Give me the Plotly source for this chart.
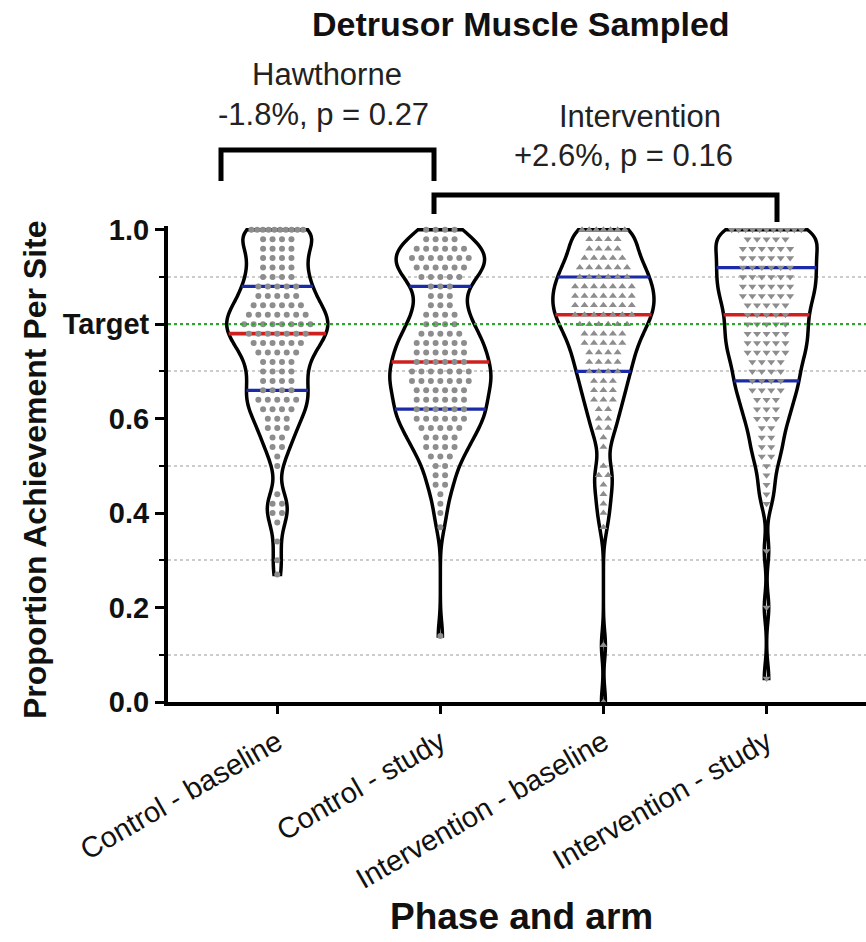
import numpy as np
import plotly.graph_objects as go

categories = ["Control - baseline", "Control - study",
              "Intervention - baseline", "Intervention - study"]

cb_values = [1.00, 0.98, 0.96, 0.94, 0.92, 0.90, 0.88, 0.86, 0.84, 0.82, 0.80, 0.78,
             0.76, 0.74, 0.72, 0.70, 0.68, 0.66, 0.64, 0.62, 0.60, 0.58, 0.56, 0.54,
             0.52, 0.50, 0.44, 0.42, 0.40, 0.38, 0.34, 0.30, 0.27]
cb_counts = [10, 4, 4, 4, 4, 4, 5, 5, 6, 7, 8, 7,
             6, 5, 4, 4, 4, 4, 5, 4, 3, 3, 2, 2,
             1, 1, 1, 2, 2, 1, 1, 1, 1]

cs_values = [1.00, 0.98, 0.96, 0.94, 0.92, 0.90, 0.88, 0.86, 0.84, 0.82, 0.80, 0.78,
             0.76, 0.74, 0.72, 0.70, 0.68, 0.66, 0.64, 0.62, 0.60, 0.58, 0.56, 0.54,
             0.52, 0.50, 0.48, 0.46, 0.44, 0.42, 0.40, 0.37, 0.14]
cs_counts = [4, 4, 6, 7, 6, 5, 3, 3, 3, 4, 4, 5,
             6, 6, 6, 7, 7, 6, 6, 6, 6, 5, 4, 4,
             3, 2, 2, 2, 1, 1, 1, 1, 1]

ib_values = [1.00, 0.98, 0.96, 0.94, 0.92, 0.90, 0.88, 0.86, 0.84, 0.82, 0.80, 0.78,
             0.76, 0.74, 0.72, 0.70, 0.68, 0.66, 0.64, 0.62, 0.60, 0.58, 0.56, 0.54,
             0.50, 0.48, 0.46, 0.44, 0.42, 0.40, 0.37, 0.12, 0.00]
ib_counts = [7, 4, 4, 5, 6, 6, 7, 7, 7, 7, 6, 5,
             5, 4, 4, 4, 3, 3, 3, 2, 2, 2, 1, 1,
             1, 2, 1, 1, 1, 1, 1, 1, 1]

is_values = [1.00, 0.98, 0.96, 0.94, 0.92, 0.90, 0.88, 0.86, 0.84, 0.82, 0.80, 0.78,
             0.76, 0.74, 0.72, 0.70, 0.68, 0.66, 0.64, 0.62, 0.60, 0.58, 0.56, 0.54,
             0.52, 0.50, 0.48, 0.46, 0.44, 0.42, 0.32, 0.20, 0.05]
is_counts = [11, 5, 6, 6, 6, 6, 6, 6, 5, 5, 5, 5,
             5, 5, 4, 4, 4, 4, 3, 3, 3, 2, 2, 2,
             2, 1, 1, 1, 1, 1, 1, 1, 1]

group_values = [cb_values, cs_values, ib_values, is_values]
group_counts = [cb_counts, cs_counts, ib_counts, is_counts]
symbols = ["circle", "circle", "triangle-up", "triangle-down"]
tick_vals = [0.0, 0.2, 0.4, 0.6, 0.8, 1.0]
tick_text = ["0.0", "0.2", "0.4", "0.6", "Target", "1.0"]
target = 0.8

BW = 0.03          # KDE bandwidth
VW = 0.62          # violin full width (category units)
FONT = "Liberation Sans"


def kde_factory(vals, bw):
    vals = np.asarray(vals, float)
    n = len(vals)
    lo, hi = vals.min(), vals.max()
    dist = hi - lo
    m = int(np.ceil(dist / (bw / 3.0)))
    step = dist / m
    grid = lo + step * np.arange(m + 1)

    def kde(x):
        x = np.atleast_1d(np.asarray(x, float))
        z = (x[:, None] - vals[None, :]) / bw
        return np.exp(-0.5 * z * z).sum(1) / (np.sqrt(2 * np.pi) * n * bw)

    return kde, kde(grid).max()


fig = go.Figure()

line_traces = []
point_traces = []
violin_traces = []
for i, (vals, cnts) in enumerate(zip(group_values, group_counts)):
    data = np.repeat(np.asarray(vals, float), cnts)
    kde, maxk = kde_factory(data, BW)

    def halfw(v):
        return kde(v) / maxk * VW / 2.0

    violin_traces.append(go.Violin(
        x=[i] * len(data), y=data, width=VW, bandwidth=BW, spanmode="hard",
        line=dict(color="black", width=3.5), fillcolor="rgba(0,0,0,0)",
        points=False, box_visible=False, meanline_visible=False,
        hoverinfo="skip", showlegend=False, name=categories[i]))

    q1, med, q3 = np.percentile(data, [25, 50, 75])
    for q, col, w in [(q1, "#1b2aa6", 3.2), (q3, "#1b2aa6", 3.2), (med, "#cf2020", 3.6)]:
        h = halfw(q)[0]
        line_traces.append(go.Scatter(
            x=[i - h, i + h], y=[q, q], mode="lines",
            line=dict(color=col, width=w), hoverinfo="skip", showlegend=False))

    px, py = [], []
    for v, k in zip(vals, cnts):
        h = halfw(v)[0]
        if k > 1:
            s = min(0.058, 1.7 * h / (k - 1))
        else:
            s = 0.0
        offs = (np.arange(k) - (k - 1) / 2.0) * s
        px.extend(list(i + offs))
        py.extend([v] * k)
    point_traces.append(go.Scatter(
        x=px, y=py, mode="markers",
        marker=dict(symbol=symbols[i], size=6 if symbols[i] == "circle" else 7,
                    color="#8d8d8d", line=dict(width=0)),
        hoverinfo="skip", showlegend=False))

for t in violin_traces + line_traces + point_traces:
    fig.add_trace(t)

# plot area in page pixels: 168..866 x 226..702
W_FIG, H_FIG = 866, 942
L, R, T, B = 168, 866, 226, 702


def xp(p):
    return (p - L) / (R - L)


def yp(p):
    return (B - p) / (B - T)


shapes = [
    dict(type="line", xref="paper", yref="y", x0=0, x1=1, y0=target, y1=target,
         line=dict(color="#2fa52f", width=2.2, dash="dot"), layer="above"),
    dict(type="path", xref="paper", yref="paper",
         path=f"M {xp(221)} {yp(181)} L {xp(221)} {yp(150)} L {xp(434)} {yp(150)} L {xp(434)} {yp(181)}",
         line=dict(color="black", width=5)),
    dict(type="path", xref="paper", yref="paper",
         path=f"M {xp(434)} {yp(214)} L {xp(434)} {yp(195)} L {xp(777)} {yp(195)} L {xp(777)} {yp(222)}",
         line=dict(color="black", width=5)),
]


def ann(text, x, y, size, color="#222", angle=0):
    return dict(text=text, x=xp(x), y=yp(y), xref="paper", yref="paper", showarrow=False,
                textangle=angle, font=dict(family=FONT, size=size, color=color),
                xanchor="center", yanchor="middle")


annotations = [
    ann("<b>Detrusor Muscle Sampled</b>", 521, 24, 34, "#111"),
    ann("Hawthorne", 327, 74, 31),
    ann("-1.8%, p = 0.27", 323, 115, 31),
    ann("Intervention", 640, 117, 31),
    ann("+2.6%, p = 0.16", 623, 155, 31),
    ann("<b>Proportion Achievement Per Site</b>", 35, 470, 32, "#111", -90),
    ann("<b>Phase and arm</b>", 521, 916, 37, "#111"),
]

fig.update_layout(
    width=W_FIG, height=H_FIG,
    margin=dict(l=L, r=W_FIG - R, t=T, b=H_FIG - B, pad=0, autoexpand=False),
    paper_bgcolor="white", plot_bgcolor="white",
    violinmode="overlay", showlegend=False,
    shapes=shapes, annotations=annotations,
    font=dict(family=FONT, color="#111"),
    xaxis=dict(range=[-0.67, 3.61], tickmode="array", tickvals=[0, 1, 2, 3], ticktext=categories,
               tickangle=-30, ticks="outside", ticklen=8, tickwidth=3, tickcolor="black",
               showline=True, linewidth=4, linecolor="black", showgrid=False, zeroline=False,
               automargin=False, tickfont=dict(family=FONT, size=29, color="#111")),
    yaxis=dict(range=[0, 1.008], tickmode="array", tickvals=tick_vals, ticktext=tick_text,
               ticks="outside", ticklen=9, tickwidth=3, tickcolor="black",
               showline=True, linewidth=4, linecolor="black", showgrid=False, zeroline=False,
               automargin=False, tickfont=dict(family=FONT, size=29, color="#111", weight="bold"),
               minor=dict(tickmode="array", tickvals=[0.1, 0.3, 0.5, 0.7, 0.9], ticks="outside",
                          ticklen=5, tickwidth=2, tickcolor="black", showgrid=True,
                          gridcolor="#cccccc", gridwidth=1.5, griddash="dot")),
)

fig.write_html("out.html", config={"displayModeBar": False},
               post_script="document.body.style.margin='0';")
